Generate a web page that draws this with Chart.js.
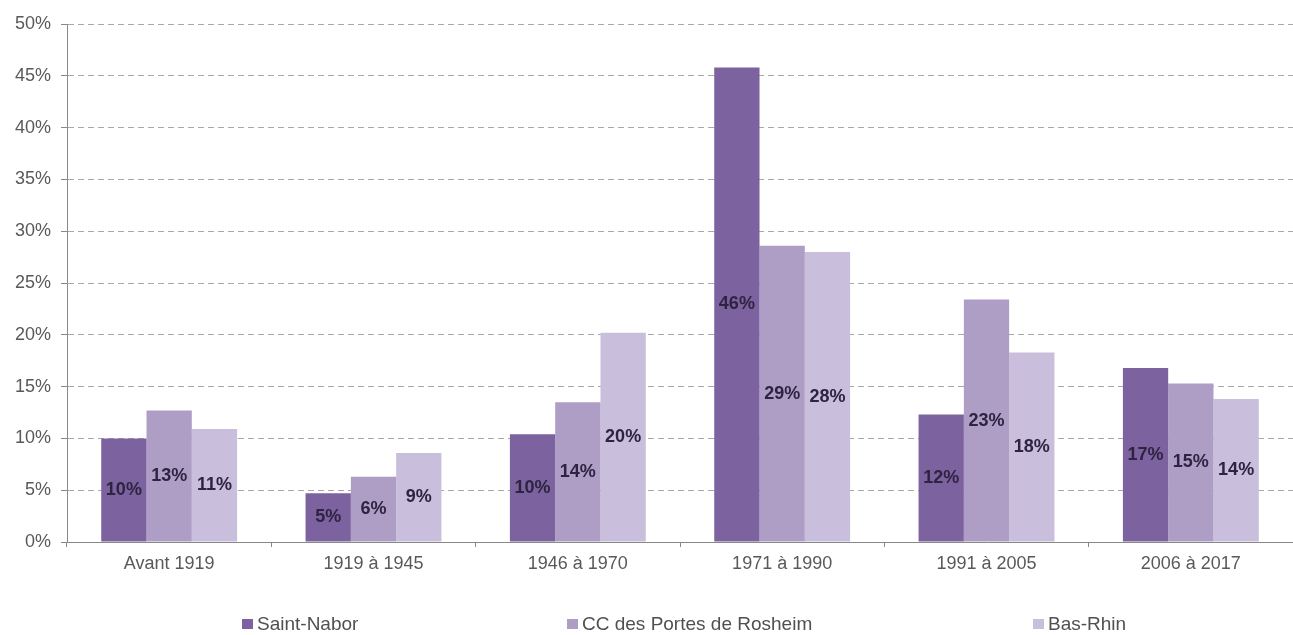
<!DOCTYPE html>
<html>
<head>
<meta charset="utf-8">
<script src="https://cdn.jsdelivr.net/npm/chart.js@4.4.1/dist/chart.umd.min.js"></script>
<style>
  html, body { margin: 0; padding: 0; background: #fff; }
  #wrap { position: relative; width: 1293px; height: 635px; }
  #legende { position: absolute; left: 0; top: 613px; width: 1293px; height: 22px;
             font-family: "Liberation Sans", Arial, sans-serif; font-size: 19px; color: #505050; }
  .item { position: absolute; top: 0; white-space: nowrap; line-height: 22px; }
  .item span { display: inline-block; width: 11px; height: 10px; margin-right: 4px; vertical-align: 1px; }
</style>
</head>
<body>
<div id="wrap">
  <canvas id="graphique" width="1293" height="635"></canvas>
  <div id="legende"></div>
</div>
<script>
// Période d'achèvement des résidences principales
const periodes     = ['Avant 1919', '1919 à 1945', '1946 à 1970', '1971 à 1990', '1991 à 2005', '2006 à 2017'];
const saintNabor   = [10.0, 4.7, 10.4, 45.8, 12.3, 16.8];
const ccRosheim    = [12.7, 6.3, 13.5, 28.6, 23.4, 15.3];
const basRhin      = [10.9, 8.6, 20.2, 28.0, 18.3, 13.8];
const ticksY       = [0, 5, 10, 15, 20, 25, 30, 35, 40, 45, 50];

const series = [
  { label: 'Saint-Nabor',              data: saintNabor, couleur: '#7d62a0' },
  { label: 'CC des Portes de Rosheim', data: ccRosheim,  couleur: '#ae9ec6' },
  { label: 'Bas-Rhin',                 data: basRhin,    couleur: '#c9bedb' },
];
const legendeX = [242, 567, 1033];

const police = '"Liberation Sans", Arial, sans-serif';

// étiquettes au centre des barres
const etiquettes = {
  id: 'etiquettes',
  afterDatasetsDraw(chart) {
    const ctx = chart.ctx;
    ctx.save();
    ctx.font = 'bold 18px ' + police;
    ctx.fillStyle = '#2e2442';
    ctx.textAlign = 'center';
    ctx.textBaseline = 'middle';
    chart.data.datasets.forEach((ds, i) => {
      chart.getDatasetMeta(i).data.forEach((bar, j) => {
        const v = ds.data[j];
        ctx.fillText(Math.round(v) + '%', bar.x, (bar.y + bar.base) / 2);
      });
    });
    ctx.restore();
  }
};

new Chart(document.getElementById('graphique'), {
  type: 'bar',
  data: {
    labels: periodes,
    datasets: series.map(s => ({
      label: s.label,
      data: s.data,
      backgroundColor: s.couleur,
      borderWidth: 0,
      categoryPercentage: 0.665,
      barPercentage: 1.0,
    }))
  },
  options: {
    responsive: false,
    animation: false,
    layout: { padding: { top: 24, right: 0, bottom: 63, left: 0 } },
    plugins: { legend: { display: false }, tooltip: { enabled: false } },
    scales: {
      x: {
        grid: { drawOnChartArea: false, tickLength: 5, color: '#888888' },
        border: { display: true, color: '#888888' },
        ticks: { color: '#595959', font: { family: police, size: 18 }, padding: 6 },
        afterFit: (s) => { s.height = 30; }
      },
      y: {
        min: 0, max: 50,
        afterBuildTicks: (s) => { s.ticks = ticksY.map(v => ({ value: v })); },
        grid: { color: '#a8a8a8', tickLength: 6, tickBorderDash: [], tickColor: '#888888' },
        border: { display: true, color: '#888888', dash: [6, 4] },
        ticks: { color: '#595959', font: { family: police, size: 18 }, padding: 10,
                 callback: (v) => v + '%' },
        afterFit: (s) => { s.width = 67; }
      }
    }
  },
  plugins: [etiquettes]
});

const legende = document.getElementById('legende');
series.forEach((s, i) => {
  const d = document.createElement('div');
  d.className = 'item';
  d.style.left = legendeX[i] + 'px';
  d.innerHTML = '<span style="background:' + s.couleur + '"></span>' + s.label;
  legende.appendChild(d);
});
</script>
</body>
</html>
